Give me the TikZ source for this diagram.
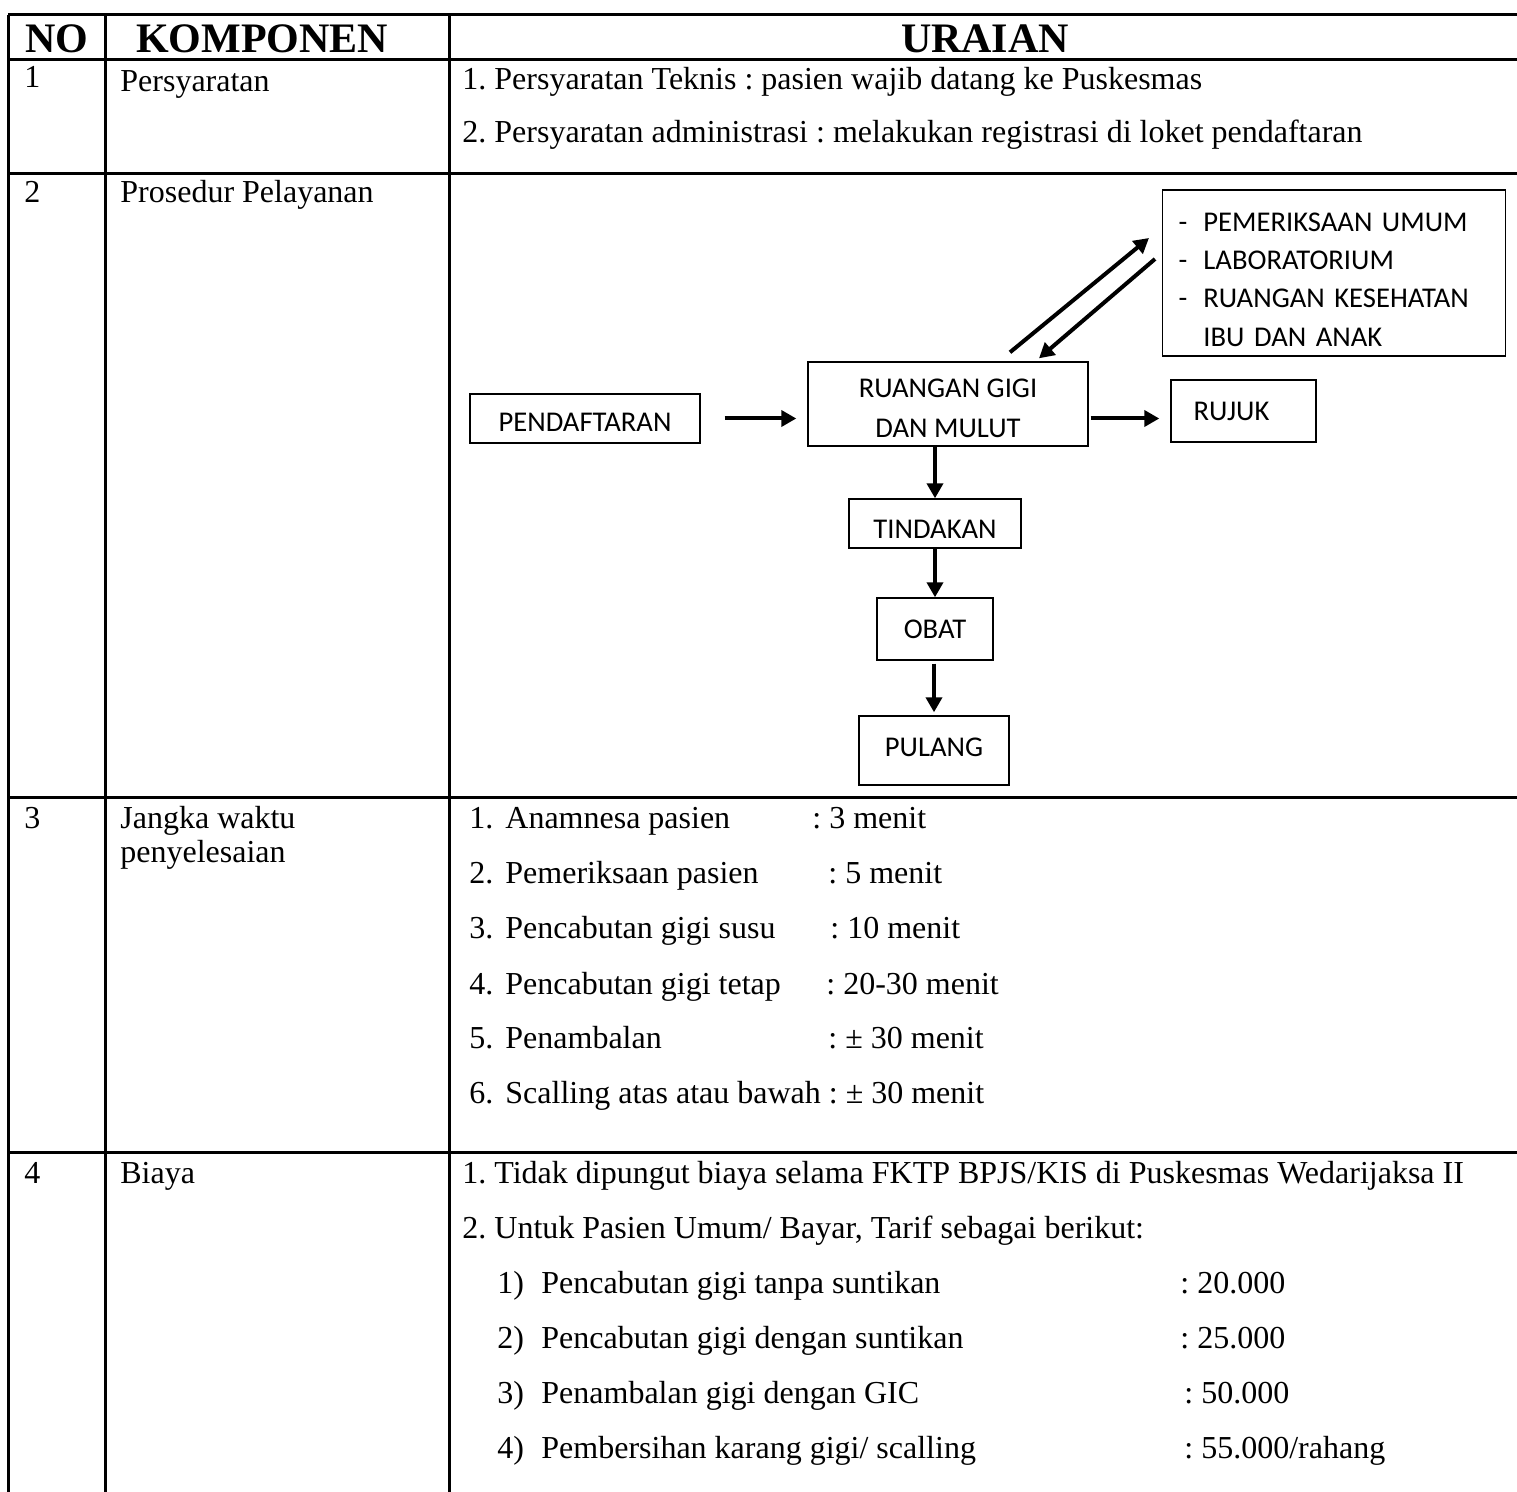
\documentclass[tikz,border=0pt]{standalone}
\usepackage{fontspec}
\setmainfont{Liberation Serif}
\newfontfamily\calfont{Carlito}
\usetikzlibrary{arrows.meta}
\newcommand\bodyfont{\fontsize{16}{19}\selectfont\frenchspacing}
\newcommand\headfont{\fontsize{21}{24}\selectfont\bfseries}
\newcommand\flowfont{\calfont\fontsize{14.3}{20}\selectfont}
\newcommand\lowered[2]{\raisebox{#1}[\height][\depth]{#2}}
\begin{document}
\begin{tikzpicture}[x=0.5pt,y=-0.5pt,
  tline/.style={line width=1.5pt},
  txt/.style={anchor=base west, inner sep=0pt, font=\bodyfont},
  hd/.style={anchor=base, inner sep=0pt, font=\headfont},
  fbox/.style={draw, line width=0.7pt, inner sep=0pt, font=\flowfont},
  arr/.style={line width=2pt, -{Triangle[length=7.5pt,width=8pt]}}]
\useasboundingbox (0,0) rectangle (1517,1492);
% table grid
\draw[tline] (8,15) -- (1517,15);
\draw[tline] (8,60) -- (1517,60);
\draw[tline] (8,174) -- (1517,174);
\draw[tline] (8,797) -- (1517,797);
\draw[tline] (8,1152) -- (1517,1152);
\draw[tline] (8,15) -- (8,1492);
\draw[tline] (105,15) -- (105,1492);
\draw[tline] (449,15) -- (449,1492);
% header
\node[hd] (hno) at (57,53) {NO};
\node[hd] (hkomp) at (262,53) {KOMPONEN};
\node[hd] (hur) at (985,53) {URAIAN};
% row 1
\node[txt] (n1) at (24,88) {1};
\node[txt] (k1) at (120,92) {Persyaratan};
\node[txt] (u1a) at (462,90) {1. Persyaratan Teknis : pasien wajib datang ke Puskesmas};
\node[txt] (u1b) at (462,143) {2. Persyaratan administrasi : melakukan registrasi di loket pendaftaran};
% row 2
\node[txt] (n2) at (24,203) {2};
\node[txt] (k2) at (120,203) {Prosedur Pelayanan};
% flowchart
\node[fbox, minimum width=115pt, minimum height=24.5pt] (pend) at (585,418.5) {\lowered{-2pt}{PENDAFTARAN}};
\node[fbox, minimum width=140pt, minimum height=42pt] (ruang) at (948,404)
  {\lowered{-3pt}{\begin{tabular}{@{}c@{}}RUANGAN GIGI\\DAN MULUT\end{tabular}}};
\node[fbox, minimum width=72.5pt, minimum height=31pt] (rujuk) at (1243.5,411) {RUJUK\hspace*{12pt}};
\node[fbox, anchor=west, align=left, text width=155.5pt, inner xsep=8pt, minimum height=83pt, font=\calfont\fontsize{14.3}{19.2}\selectfont] (lain) at (1162,273)
  {\lowered{-4pt}{\begin{tabular}{@{}l@{\hspace{8pt}}l@{}}-&PEMERIKSAAN UMUM\\-&LABORATORIUM\\-&RUANGAN KESEHATAN\\&IBU DAN ANAK\end{tabular}}};
\node[fbox, minimum width=86pt, minimum height=24.5pt] (tind) at (935,523.5) {\lowered{-3pt}{TINDAKAN}};
\node[fbox, minimum width=58pt, minimum height=31pt] (obat) at (935,629) {OBAT};
\node[fbox, minimum width=75pt, minimum height=34.5pt] (pulang) at (934,750.5) {\lowered{1.5pt}{PULANG}};
\draw[arr] ([xshift=12pt]pend.east) -- ([xshift=-5.5pt]ruang.west |- pend.east);
\draw[arr] ([xshift=1pt]ruang.east |- pend.east) -- ([xshift=-5.5pt]rujuk.west |- pend.east);
\draw[arr] ([shift={(31pt,4.5pt)}]ruang.north) -- ([shift={(-6.5pt,17.5pt)}]lain.west);
\draw[arr] ([shift={(-3.5pt,7pt)}]lain.west) -- ([shift={(45.5pt,1.5pt)}]ruang.north);
\draw[arr] (tind.north |- ruang.south) -- (tind.north);
\draw[arr] (tind.south) -- (obat.north);
\draw[arr] ([yshift=-1.5pt]pulang.north |- obat.south) -- ([yshift=1.5pt]pulang.north);
% row 3
\node[txt] (n3) at (24,828) {3};
\node[txt] (k3a) at (120,828) {Jangka waktu};
\node[txt] (k3b) at (120,863) {penyelesaian};
\node[txt] (a1) at (469,828) {1.};
\node[txt] (a1t) at (505,828) {Anamnesa pasien};
\node[txt] (a1v) at (812,828) {: 3 menit};
\node[txt] (a2) at (469,883) {2.};
\node[txt] (a2t) at (505,883) {Pemeriksaan pasien};
\node[txt] (a2v) at (828,883) {: 5 menit};
\node[txt] (a3) at (469,938) {3.};
\node[txt] (a3t) at (505,938) {Pencabutan gigi susu};
\node[txt] (a3v) at (830,938) {: 10 menit};
\node[txt] (a4) at (469,994) {4.};
\node[txt] (a4t) at (505,994) {Pencabutan gigi tetap};
\node[txt] (a4v) at (826,994) {: 20-30 menit};
\node[txt] (a5) at (469,1048) {5.};
\node[txt] (a5t) at (505,1048) {Penambalan};
\node[txt] (a5v) at (828,1048) {: ± 30 menit};
\node[txt] (a6) at (469,1103) {6.};
\node[txt] (a6t) at (505,1103) {Scalling atas atau bawah : ± 30 menit};
% row 4
\node[txt] (n4) at (24,1183) {4};
\node[txt] (k4) at (120,1183) {Biaya};
\node[txt] (b1) at (462,1183) {1. Tidak dipungut biaya selama FKTP BPJS/KIS di Puskesmas Wedarijaksa II};
\node[txt] (b2) at (462,1238) {2. Untuk Pasien Umum/ Bayar, Tarif sebagai berikut:};
\node[txt] (c1) at (497,1293) {1)};
\node[txt] (c1t) at (541,1293) {Pencabutan gigi tanpa suntikan};
\node[txt] (c1v) at (1180,1293) {: 20.000};
\node[txt] (c2) at (497,1348) {2)};
\node[txt] (c2t) at (541,1348) {Pencabutan gigi dengan suntikan};
\node[txt] (c2v) at (1180,1348) {: 25.000};
\node[txt] (c3) at (497,1403) {3)};
\node[txt] (c3t) at (541,1403) {Penambalan gigi dengan GIC};
\node[txt] (c3v) at (1184,1403) {: 50.000};
\node[txt] (c4) at (497,1458) {4)};
\node[txt] (c4t) at (541,1458) {Pembersihan karang gigi/ scalling};
\node[txt] (c4v) at (1184,1458) {: 55.000/rahang};
\end{tikzpicture}
\end{document}
